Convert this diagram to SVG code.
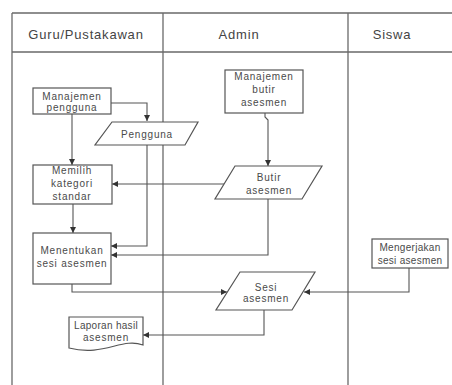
<svg xmlns="http://www.w3.org/2000/svg" width="452" height="385" viewBox="0 0 452 385">
<defs>
<style>
.frame{fill:none;stroke:#6a6a6a;stroke-width:1.3}
.shape{fill:#fff;stroke:#555;stroke-width:1.2}
.conn{fill:none;stroke:#555;stroke-width:1.1}
.hdr{font-family:"Liberation Sans",Arial,sans-serif;font-size:13px;fill:#444;letter-spacing:0.8px}
.lbl{font-family:"Liberation Sans",Arial,sans-serif;font-size:10px;fill:#4a4a4a;letter-spacing:0.8px;text-anchor:middle}
.tight{letter-spacing:0.3px}
</style>
<marker id="arr" markerWidth="6" markerHeight="6" refX="6" refY="3" orient="auto" markerUnits="userSpaceOnUse">
<path d="M0,0 L6,3 L0,6 z" fill="#333"/>
</marker>
</defs>
<rect width="452" height="385" fill="#fff"/>
<g id="lanes">
<path class="frame" d="M12,13 H452 M12,52 H452 M12,13 V385 M163,13 V385 M348,13 V385"/>
<text class="hdr" x="86" y="39" text-anchor="middle">Guru/Pustakawan</text>
<text class="hdr" x="239" y="39" text-anchor="middle">Admin</text>
<text class="hdr" x="392" y="39" text-anchor="middle">Siswa</text>
</g>
<g id="connectors">
<path class="conn" d="M111,103 H147 V121" marker-end="url(#arr)"/>
<path class="conn" d="M72,114 V165" marker-end="url(#arr)"/>
<path class="conn" d="M265,113 V117 L268,120 V166" marker-end="url(#arr)"/>
<path class="conn" d="M224,184 H112" marker-end="url(#arr)"/>
<path class="conn" d="M73,204 V233" marker-end="url(#arr)"/>
<path class="conn" d="M147,145 V246 H111" marker-end="url(#arr)"/>
<path class="conn" d="M268,199 V255 H111" marker-end="url(#arr)"/>
<path class="conn" d="M72,284 V292 H227" marker-end="url(#arr)"/>
<path class="conn" d="M409,268 V292 H304" marker-end="url(#arr)"/>
<path class="conn" d="M264,310 V335 H143" marker-end="url(#arr)"/>
</g>
<g id="manajemen-pengguna">
<rect class="shape" x="33" y="88" width="78" height="26"/>
<text class="lbl" x="72" y="100">Manajemen</text>
<text class="lbl" x="72" y="111">pengguna</text>
</g>
<g id="pengguna">
<path class="shape" d="M112,122 H198 L185,145 H95 Z"/>
<text class="lbl" x="147" y="137.5">Pengguna</text>
</g>
<g id="manajemen-butir">
<rect class="shape" x="225" y="70" width="78" height="43"/>
<text class="lbl" x="264" y="79.5">Manajemen</text>
<text class="lbl" x="264" y="92.5">butir</text>
<text class="lbl" x="264" y="106">asesmen</text>
</g>
<g id="butir-asesmen">
<path class="shape" d="M235,166 H322 L302,199 H215 Z"/>
<text class="lbl" x="269" y="181">Butir</text>
<text class="lbl" x="269" y="194">asesmen</text>
</g>
<g id="memilih-kategori">
<rect class="shape" x="33" y="165" width="79" height="39"/>
<text class="lbl" x="72" y="174">Memilih</text>
<text class="lbl" x="72" y="187">kategori</text>
<text class="lbl" x="72" y="200">standar</text>
</g>
<g id="menentukan-sesi">
<rect class="shape" x="33" y="233" width="78" height="51"/>
<text class="lbl" x="72" y="254">Menentukan</text>
<text class="lbl" x="72" y="267">sesi asesmen</text>
</g>
<g id="mengerjakan-sesi">
<rect class="shape" x="372" y="239" width="76" height="29"/>
<text class="lbl tight" x="410" y="250.5">Mengerjakan</text>
<text class="lbl tight" x="410" y="264">sesi asesmen</text>
</g>
<g id="sesi-asesmen">
<path class="shape" d="M240,272 H315 L292,310 H216 Z"/>
<text class="lbl" x="266" y="290.5">Sesi</text>
<text class="lbl" x="266" y="302">asesmen</text>
</g>
<g id="laporan">
<path class="shape" d="M69,317 H143 V345 C122,337 104,357 69,348 Z"/>
<text class="lbl tight" x="106" y="329">Laporan hasil</text>
<text class="lbl" x="106" y="341">asesmen</text>
</g>
</svg>
